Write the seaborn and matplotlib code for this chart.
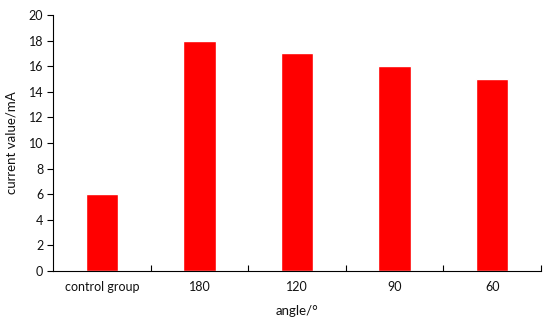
import matplotlib
matplotlib.use("Agg")
import matplotlib.pyplot as plt
import seaborn as sns
import pandas as pd
import numpy as np

categories = ["control group", "180", "120", "90", "60"]
values = [6, 18, 17, 16, 15]
yticks = [0, 2, 4, 6, 8, 10, 12, 14, 16, 18, 20]

sns.set_style("white")
plt.rcParams['font.family'] = ['Lato', 'DejaVu Sans']

df = pd.DataFrame({"angle": categories, "value": values})

fig = plt.figure(figsize=(5.5, 3.27), dpi=100)
ax = fig.add_axes([0.0964, 0.1713, 0.8872, 0.7827])
sns.barplot(data=df, x="angle", y="value", color="#ff0000", width=0.33,
            saturation=1, ax=ax, order=categories)
ax.set_xlim(-0.5, len(categories) - 0.5)
ax.set_ylim(0, 20)
ax.set_yticks(yticks)
ax.set_yticklabels([str(t) for t in yticks], fontsize=9)
ax.tick_params(axis='y', direction='out', length=4, width=0.8, color='black', pad=3, left=True, labelcolor='#111111')
ax.tick_params(axis='x', which='major', length=0, pad=7, labelsize=9, labelcolor='#111111')
ax.set_xticks(np.arange(0.5, len(categories) - 0.5 + 0.01, 1), minor=True)
ax.tick_params(axis='x', which='minor', direction='in', length=4, width=0.8, color='black', bottom=True)
for s in ['top', 'right']:
    ax.spines[s].set_visible(False)
for s in ['left', 'bottom']:
    ax.spines[s].set_color('black')
    ax.spines[s].set_linewidth(0.8)
ax.set_xlabel("angle/°", fontsize=9.5, labelpad=9, color='#111111')
ax.set_ylabel("current value/mA", fontsize=9.5, labelpad=8, color='#111111')
fig.savefig("out.png", dpi=100)
